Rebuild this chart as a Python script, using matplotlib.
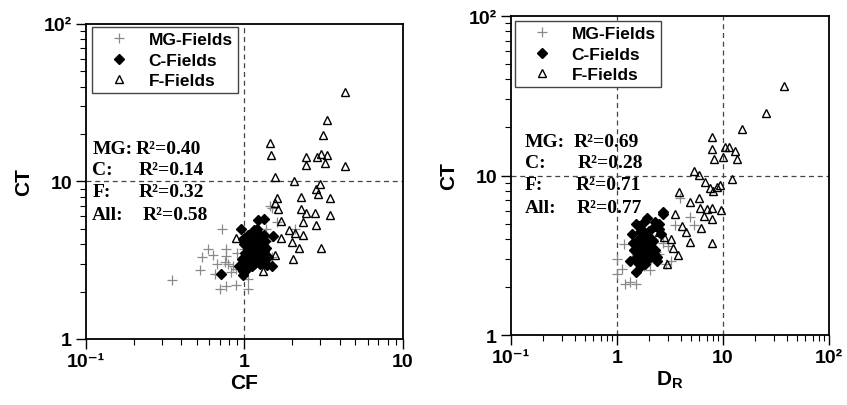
import numpy as np
import matplotlib.pyplot as plt
from matplotlib.ticker import LogLocator, FixedFormatter, FixedLocator, NullFormatter

plt.rcParams['font.family'] = ['Liberation Sans', 'DejaVu Sans']
plt.rcParams['mathtext.fontset'] = 'custom'
plt.rcParams['mathtext.bf'] = 'Liberation Sans:bold'
plt.rcParams['mathtext.rm'] = 'Liberation Sans:bold'
plt.rcParams['mathtext.it'] = 'Liberation Sans:bold'

# ---- left panel: CF vs CT ----
mg_cf = [0.35, 0.525, 0.54, 0.59, 0.63, 0.67, 0.72, 0.76, 0.77, 0.79, 0.65, 0.70, 0.76,
         0.89, 1.05, 0.82, 0.89, 1.37, 2.09, 1.45, 1.50, 1.0, 1.1, 1.3, 1.4, 1.6, 1.2,
         0.9, 1.5, 0.85, 0.75, 1.05]
mg_ct = [2.36, 2.75, 3.32, 3.75, 3.4, 3.0, 5.0, 3.75, 3.35, 3.0, 2.6, 2.09, 2.18,
         2.2, 2.09, 2.65, 2.8, 5.0, 5.0, 7.0, 6.8, 3.7, 4.5, 4.0, 4.2, 5.5, 3.3,
         3.5, 3.3, 2.9, 3.1, 2.4]

c_cf = [0.71, 0.975, 0.98, 0.93, 1.0, 1.02, 1.05, 1.0, 0.98, 0.95, 1.05, 1.1, 1.15, 1.2,
        1.22, 1.25, 1.3, 1.35, 1.22, 1.32, 1.52, 1.1, 1.15, 1.2, 1.25, 1.3, 1.38, 1.49,
        1.08, 1.12, 1.18, 1.22, 1.28, 1.33, 1.03, 0.96, 1.06, 1.16, 1.24, 1.32, 1.4, 1.14,
        1.09, 1.19, 1.27, 1.01, 1.13, 1.36]
c_ct = [2.57, 2.55, 2.7, 2.9, 3.0, 3.3, 3.6, 4.0, 4.3, 5.0, 4.6, 4.4, 4.9, 5.0,
        4.7, 4.2, 3.9, 4.2, 5.7, 5.8, 4.5, 3.8, 3.5, 3.2, 3.0, 3.1, 2.95, 2.9,
        3.1, 2.9, 3.4, 3.7, 3.4, 3.6, 2.8, 3.2, 4.1, 4.1, 4.4, 4.6, 3.3, 3.0,
        3.4, 3.9, 3.2, 3.5, 3.3, 3.8]

f_cf = [4.32, 3.33, 3.12, 1.45, 1.47, 2.43, 2.86, 3.05, 3.33, 2.45, 3.2, 4.28, 1.55,
        2.04, 2.98, 2.81, 2.9, 3.44, 1.6, 2.26, 1.55, 1.62, 2.28, 2.43, 2.78, 3.44,
        1.69, 2.34, 2.84, 1.9, 2.09, 2.34, 1.71, 1.98, 2.2, 3.02, 1.55, 2.02, 0.88, 1.31]
f_ct = [36.8, 24.7, 19.7, 17.5, 14.7, 14.3, 14.3, 14.9, 14.7, 12.7, 13.1, 12.6, 10.6,
        10.1, 9.6, 8.9, 8.3, 7.8, 7.8, 8.0, 7.3, 6.7, 6.7, 6.3, 6.3, 6.1,
        5.6, 5.5, 5.3, 4.9, 4.7, 4.6, 4.4, 4.1, 3.8, 3.8, 3.4, 3.2, 4.4, 2.7]

# ---- right panel: DR vs CT ----
mg_dr = [1.0, 1.0, 1.16, 1.2, 1.32, 1.5, 1.12, 2.03, 2.9, 3.25, 4.9, 5.3, 3.9, 3.5,
         2.7, 2.35, 2.2, 3.0, 1.9, 1.6, 1.5, 2.5, 1.8, 2.1, 1.4]
mg_ct2 = [3.0, 2.4, 3.7, 2.1, 2.15, 2.1, 2.6, 2.55, 2.8, 2.9, 5.5, 4.9, 7.2, 4.9,
          3.8, 3.3, 4.0, 3.6, 2.9, 3.3, 4.4, 3.2, 2.7, 3.0, 3.0]

c_dr = [2.72, 2.26, 2.47, 1.52, 1.4, 1.5, 1.32, 1.5, 2.38, 1.55, 1.6, 1.7, 1.8, 1.65,
        1.9, 2.0, 1.75, 1.85, 2.1, 2.2, 2.0, 1.7, 1.8, 1.6, 2.3, 2.5, 2.6, 1.45, 1.55,
        1.7, 2.3, 2.4, 1.9, 1.6, 2.1, 1.9, 2.7, 1.42, 1.62, 1.78, 1.95, 2.15, 1.58, 1.72,
        1.88, 2.05, 1.48, 1.66]
c_ct2 = [5.7, 4.8, 4.6, 5.0, 4.3, 3.65, 2.9, 2.5, 2.9, 3.0, 3.3, 3.5, 3.8, 4.0,
         4.2, 3.6, 3.1, 2.8, 3.2, 3.9, 4.5, 4.6, 5.1, 4.8, 5.1, 5.0, 4.3, 3.4, 3.9,
         2.7, 3.4, 3.1, 3.3, 2.8, 4.0, 5.4, 5.9, 3.8, 3.6, 4.3, 3.0, 3.5, 3.2, 3.9,
         3.6, 3.3, 3.0, 4.4]

f_dr = [38, 25.6, 15.2, 7.8, 7.8, 10.5, 11.3, 13.1, 13.6, 8.2, 9.9, 12.2, 5.3, 6.0,
        6.7, 7.5, 8.0, 8.8, 9.3, 3.85, 4.85, 5.9, 6.1, 7.1, 7.9, 9.5, 6.6, 7.9, 6.25,
        7.8, 3.5, 4.1, 4.5, 4.9, 3.4, 3.76, 2.96, 2.5, 2.8, 3.25]
f_ct2 = [36.5, 24.5, 19.7, 17.5, 14.6, 15.0, 15.0, 14.2, 12.6, 12.6, 13.1, 9.5, 10.6,
         10.1, 9.1, 8.4, 8.0, 8.5, 8.7, 7.9, 6.8, 7.2, 6.3, 6.2, 6.3, 6.1, 5.6, 5.3,
         4.7, 3.8, 5.7, 4.8, 4.4, 3.84, 3.5, 3.16, 2.78, 4.4, 4.1, 4.0]

r2_left = [("MG:", "R²=0.40"), ("C:", "R²=0.14"), ("F:", "R²=0.32"), ("All:", "R²=0.58")]
r2_right = [("MG:", "R²=0.69"), ("C:", "R²=0.28"), ("F:", "R²=0.71"), ("All:", "R²=0.77")]

fig = plt.figure(figsize=(8.47, 4.06), dpi=100)
ax1 = fig.add_axes([0.1015, 0.1626, 0.3743, 0.776])
ax2 = fig.add_axes([0.6033, 0.1724, 0.3754, 0.7857])


def draw(ax, mgx, mgy, cx, cy, fx, fy, xlim, xticks, xlabels, xlabel, vlines, r2, r2pos, leg_anchor):
    ax.set_xscale('log')
    ax.set_yscale('log')
    for v in vlines:
        ax.axvline(v, color='#444444', ls=(0, (4, 3)), lw=0.9, zorder=1)
    ax.axhline(10, color='#444444', ls=(0, (4, 3)), lw=0.9, zorder=1)
    ax.plot(mgx, mgy, ls='none', marker='+', ms=6.5, mew=0.9, color='#8a8a8a', label='MG-Fields', zorder=3)
    ax.plot(cx, cy, ls='none', marker='D', ms=4.8, color='black', label='C-Fields', zorder=4)
    ax.plot(fx, fy, ls='none', marker='^', ms=5.5, mew=1.0, mfc='none', mec='black',
            label='F-Fields', zorder=5)
    ax.set_xlim(*xlim)
    ax.set_ylim(1, 100)
    ax.xaxis.set_major_locator(FixedLocator(xticks))
    ax.xaxis.set_major_formatter(FixedFormatter(xlabels))
    ax.xaxis.set_minor_locator(LogLocator(base=10, subs=np.arange(2, 10)))
    ax.xaxis.set_minor_formatter(NullFormatter())
    ax.yaxis.set_major_locator(FixedLocator([1, 10, 100]))
    ax.yaxis.set_major_formatter(FixedFormatter(['1', '10', '10²']))
    ax.yaxis.set_minor_locator(LogLocator(base=10, subs=np.arange(2, 10)))
    ax.yaxis.set_minor_formatter(NullFormatter())
    ax.tick_params(which='major', direction='out', length=7, width=1.0, labelsize=14, pad=3)
    ax.tick_params(which='minor', direction='out', length=4, width=0.8)
    for lab in ax.get_xticklabels() + ax.get_yticklabels():
        lab.set_fontweight('bold')
    for s in ax.spines.values():
        s.set_linewidth(1.3)
    ax.set_xlabel(xlabel, fontsize=15, fontweight='bold', labelpad=2)
    ax.set_ylabel('CT', fontsize=15, fontweight='bold', labelpad=8)
    leg = ax.legend(loc='upper left', bbox_to_anchor=leg_anchor, frameon=True, fancybox=False,
                    edgecolor='#444444', framealpha=1, prop={'weight': 'bold', 'size': 12.5},
                    handletextpad=0.45, borderpad=0.3, labelspacing=0.3, handlelength=2.5,
                    borderaxespad=0)
    leg.get_frame().set_linewidth(1.0)
    lx, rxs, ys = r2pos
    for (lab, val), rx, y in zip(r2, rxs, ys):
        ax.text(lx, y, lab, transform=ax.transAxes, family='Liberation Serif', fontweight='bold',
                fontsize=14, va='center', ha='left', zorder=6)
        ax.text(rx, y, val, transform=ax.transAxes, family='Liberation Serif', fontweight='bold',
                fontsize=14, va='center', ha='left', zorder=6)


draw(ax1, mg_cf, mg_ct, c_cf, c_ct, f_cf, f_ct, (0.1, 10), [0.1, 1, 10],
     ['10⁻¹', '1', '10'], 'CF', [1], r2_left,
     (0.02, [0.157, 0.167, 0.167, 0.178], [0.606, 0.537, 0.467, 0.394]), (0.019, 0.99))

draw(ax2, mg_dr, mg_ct2, c_dr, c_ct2, f_dr, f_ct2, (0.1, 100), [0.1, 1, 10, 100],
     ['10⁻¹', '1', '10', '10²'], r'$\mathbf{D_R}$', [1, 10], r2_right,
     (0.044, [0.198, 0.21, 0.203, 0.206], [0.608, 0.542, 0.473, 0.401]), (0.013, 0.984))

fig.savefig('out.png', dpi=100)
